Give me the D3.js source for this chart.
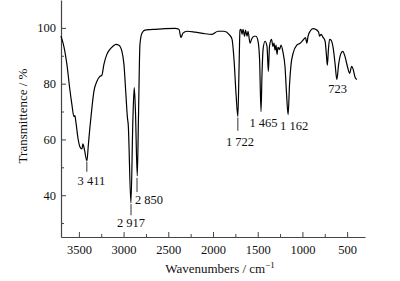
<!DOCTYPE html>
<html>
<head>
<meta charset="utf-8">
<script src="https://cdn.jsdelivr.net/npm/d3@7"></script>
<style>
  body { margin: 0; background: #fff; }
  svg { display: block; font-family: "Liberation Serif", "DejaVu Serif", serif; }
</style>
</head>
<body>
<div id="chart"></div>
<script>
// FT-IR spectrum
const wavenumbers = [
  3701, 3679, 3657, 3634, 3601, 3578, 3556, 3545, 3534, 3511, 3489, 3466, 3455, 3438, 3410,
  3394, 3377, 3354, 3332, 3299, 3265, 3243, 3220, 3187, 3153, 3119, 3086, 3052, 3019, 2996,
  2974, 2957, 2948, 2918, 2896, 2881, 2868, 2847, 2834, 2817, 2795, 2761, 2705, 2649, 2537,
  2425, 2381, 2358, 2336, 2291, 2202, 2090, 2011, 1944, 1877, 1821, 1787, 1765, 1742, 1722,
  1709, 1698, 1687, 1675, 1664, 1647, 1636, 1619, 1608, 1586, 1569, 1541, 1519, 1496, 1479,
  1463, 1452, 1440, 1418, 1396, 1381, 1368, 1346, 1329, 1318, 1306, 1295, 1284, 1273, 1256,
  1239, 1217, 1194, 1177, 1160, 1144, 1127, 1101, 1063, 1026, 993, 965, 951, 937, 914,
  881, 847, 819, 808, 791, 769, 746, 732, 721, 709, 696, 679, 657, 634, 615,
  595, 573, 548, 522, 494, 472, 449, 432, 410, 391
]
const transmittance = [
  97.0, 94.8, 91.6, 86.9, 77.9, 72.5, 68.2, 68.5, 66.4, 60.6, 57.4, 56.6, 58.4, 56.3, 52.3,
  58.1, 64.2, 71.4, 77.2, 80.8, 82.6, 83.0, 86.9, 90.5, 92.3, 93.4, 94.1, 93.8, 91.6, 86.9,
  76.1, 67.8, 65.3, 37.2, 67.1, 78.6, 70.7, 46.9, 67.1, 94.1, 98.1, 99.2, 99.4, 99.5, 99.7,
  99.8, 99.5, 96.6, 98.1, 98.8, 98.5, 97.9, 97.7, 98.8, 98.8, 97.7, 95.9, 88.7, 76.1, 68.2,
  85.1, 99.2, 99.5, 97.7, 99.5, 97.0, 99.2, 97.0, 98.8, 94.5, 95.9, 97.0, 97.0, 95.2, 88.7,
  70.0, 83.3, 92.3, 95.2, 93.4, 84.4, 93.4, 95.9, 93.4, 94.5, 92.0, 93.8, 90.5, 93.0, 92.3,
  93.8, 91.2, 85.8, 76.1, 68.9, 79.7, 86.9, 91.2, 93.8, 94.5, 95.6, 96.5, 94.5, 97.0, 98.8,
  99.7, 99.4, 98.5, 97.0, 97.7, 96.6, 95.2, 90.5, 86.6, 92.3, 95.9, 95.6, 93.0, 86.9, 81.5,
  86.9, 90.5, 91.6, 89.5, 85.8, 83.7, 86.2, 85.1, 82.2, 81.5
]

const xTicks = [3500, 3000, 2500, 2000, 1500, 1000, 500]
const xMinorTicks = [3250, 2750, 2250, 1750, 1250, 750]
const yTicks = [40, 60, 80, 100]
const yMinorTicks = [30, 50, 70, 90]

// peak labels: text, label anchor (wn, T), optional leader line (wn, T top, T bottom)
const peakLabels = ['3 411', '2 917', '2 850', '1 722', '1 465', '1 162', '723']
const labelWn = [3360, 2917, 2716, 1698, 1435, 1093, 606]
const labelT = [43.7, 28.5, 36.8, 57.7, 64.6, 63.5, 76.5]
const leaderWn = [3411, 2917, 2850, 1722, null, null, null]
const leaderTop = [52.0, 36.8, 46.2, 67.8, null, null, null]
const leaderBottom = [48.4, 32.8, 41.1, 63.1, null, null, null]

const W = 400, H = 281
const MARGIN = { top: 0, right: 35, bottom: 44, left: 61 }
const innerW = W - MARGIN.left - MARGIN.right
const innerH = H - MARGIN.top - MARGIN.bottom
const AXIS = '#444'
const FONT = '"Liberation Serif", "Times New Roman", serif'

const svg = d3.select('#chart').append('svg')
  .attr('width', W).attr('height', H)

const g = svg.append('g').attr('transform', `translate(${MARGIN.left},${MARGIN.top})`)

const x = d3.scaleLinear().domain([3700, 300]).range([0, innerW])
const y = d3.scaleLinear().domain([25, 110]).range([innerH, 0])

function styleAxis(sel) {
  sel.attr('font-family', FONT).attr('font-size', 12.5)
  sel.select('.domain').attr('stroke', AXIS).attr('stroke-width', 1.2)
  sel.selectAll('line').attr('stroke', AXIS).attr('stroke-width', 1)
  sel.selectAll('text').attr('fill', '#111')
}

g.append('g').attr('transform', `translate(0,${innerH})`)
  .call(d3.axisBottom(x).tickValues(xMinorTicks).tickSize(-3).tickFormat(''))
  .call(sel => sel.select('.domain').remove())
  .call(styleAxis)
g.append('g').attr('transform', `translate(0,${innerH})`)
  .call(d3.axisBottom(x).tickValues(xTicks).tickSizeInner(-5).tickSizeOuter(0)
    .tickPadding(8).tickFormat(d3.format('d')))
  .call(styleAxis)

g.append('g')
  .call(d3.axisLeft(y).tickValues(yMinorTicks).tickSize(-3).tickFormat(''))
  .call(sel => sel.select('.domain').remove())
  .call(styleAxis)
g.append('g')
  .call(d3.axisLeft(y).tickValues(yTicks).tickSizeInner(-5).tickSizeOuter(0)
    .tickPadding(5).tickFormat(d3.format('d')))
  .call(styleAxis)

const line = d3.line()
  .x((_, i) => x(wavenumbers[i]))
  .y(v => y(v))
  .curve(d3.curveMonotoneX)

g.append('path')
  .attr('d', line(transmittance))
  .attr('fill', 'none')
  .attr('stroke', '#000')
  .attr('stroke-width', 1.2)
  .attr('stroke-linejoin', 'round')

peakLabels.forEach((txt, i) => {
  if (leaderWn[i] != null) {
    g.append('line')
      .attr('x1', x(leaderWn[i])).attr('x2', x(leaderWn[i]))
      .attr('y1', y(leaderTop[i])).attr('y2', y(leaderBottom[i]))
      .attr('stroke', '#333').attr('stroke-width', 1)
  }
  g.append('text')
    .attr('x', x(labelWn[i])).attr('y', y(labelT[i]))
    .attr('text-anchor', 'middle')
    .attr('font-family', FONT)
    .attr('font-size', 12.5)
    .attr('fill', '#111')
    .text(txt)
})

// axis titles
const xt = svg.append('text')
  .attr('x', 220).attr('y', 273)
  .attr('text-anchor', 'middle')
  .attr('font-family', FONT)
  .attr('font-size', 13)
  .attr('fill', '#111')
xt.append('tspan').text('Wavenumbers / cm')
xt.append('tspan').attr('dy', -5).attr('font-size', 9).text('−1')

svg.append('text')
  .attr('transform', 'translate(27,116) rotate(-90)')
  .attr('text-anchor', 'middle')
  .attr('font-family', FONT)
  .attr('font-size', 13)
  .attr('fill', '#111')
  .text('Transmittence / %')
</script>
</body>
</html>
